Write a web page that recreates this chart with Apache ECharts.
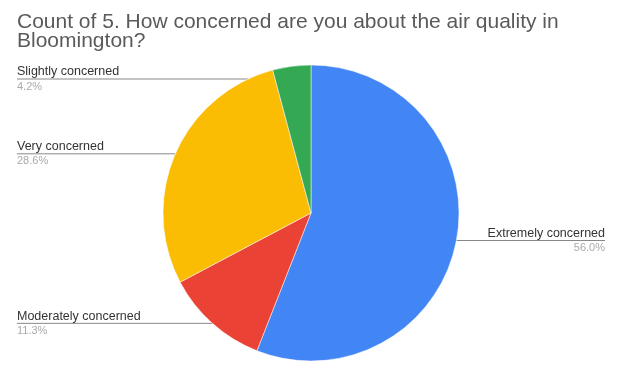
<!DOCTYPE html>
<html>
<head>
<meta charset="utf-8">
<script src="https://cdn.jsdelivr.net/npm/echarts@6/dist/echarts.min.js"></script>
<style>
  html, body { margin: 0; padding: 0; background: #fff; }
  #main { width: 644px; height: 373px; }
</style>
</head>
<body>
<div id="main"></div>
<script>
// responses (count)
var categories = ["Extremely concerned", "Moderately concerned", "Very concerned", "Slightly concerned"];
var counts = [94, 19, 48, 7];
var colors = ["#4285f4", "#ea4335", "#fbbc04", "#34a853"];

var CX = 311, CY = 213, R = 148;
var MIN_LINE_Y = 79; // keep labels clear of the title

var chart = echarts.init(document.getElementById("main"));

var pieData = categories.map(function (name, i) {
  var item = { name: name, value: counts[i] };
  if (i === 0) {
    item.label = { edgeDistance: 39 }; // right side label sits a bit further in
  }
  return item;
});

chart.setOption({
  color: colors,
  textStyle: { fontFamily: "Liberation Sans, Arial, sans-serif" },
  title: {
    text: "Count of 5. How concerned are you about the air quality in\nBloomington?",
    left: 12,
    top: 8,
    textStyle: {
      fontSize: 21,
      fontWeight: "normal",
      color: "#5a5a5a",
      lineHeight: 19
    }
  },
  series: [
    {
      type: "pie",
      center: [CX, CY],
      radius: [0, R],
      startAngle: 90,
      clockwise: true,
      avoidLabelOverlap: false,
      itemStyle: { borderColor: "#fff", borderWidth: 0.5 },
      label: {
        show: true,
        alignTo: "edge",
        edgeDistance: 17,
        formatter: function (p) {
          return "{n|" + p.name + "}\n{p|" + p.percent.toFixed(1) + "%}";
        },
        rich: {
          n: { fontSize: 12.5, color: "#333", lineHeight: 15 },
          p: { fontSize: 11, color: "#aaa", lineHeight: 14 }
        }
      },
      labelLine: {
        show: true,
        length: 0,
        length2: 10,
        lineStyle: { color: "#888", width: 1 }
      },
      labelLayout: function (params) {
        var pts = params.labelLinePoints;
        var r = params.labelRect;
        if (!pts) return {};
        var last = pts[pts.length - 1];
        var y = last[1];
        var leftSide = pts[0][0] > last[0];
        var dy = 0;
        var start = pts[0];
        if (y < MIN_LINE_Y) {
          dy = MIN_LINE_Y - y;
          y = MIN_LINE_Y;
          // start the line on the pie's rim at the new height
          var off = Math.sqrt(R * R - (y - CY) * (y - CY));
          start = [leftSide ? CX - off : CX + off, y];
        }
        // run the line under the whole label, like Sheets does
        var endX = leftSide ? r.x : r.x + r.width;
        return {
          dy: dy,
          labelLinePoints: [start, [start[0], y], [endX, y]]
        };
      },
      data: pieData
    }
  ]
});
</script>
</body>
</html>
